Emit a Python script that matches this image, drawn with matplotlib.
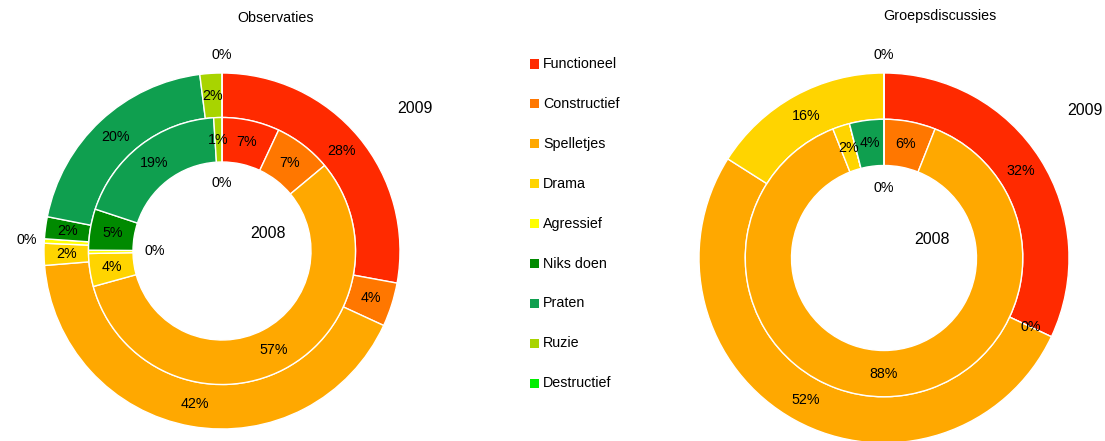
import numpy as np
import matplotlib
matplotlib.use("Agg")
import matplotlib.pyplot as plt
from matplotlib.patches import Rectangle

plt.rcParams['font.family'] = ['Liberation Sans', 'DejaVu Sans']

# data
categories = ['Functioneel', 'Constructief', 'Spelletjes', 'Drama', 'Agressief',
              'Niks doen', 'Praten', 'Ruzie', 'Destructief']
colors = ['#ff2a00', '#ff7700', '#ffa800', '#ffd400', '#ffff00',
          '#008a00', '#0f9f4f', '#a8d400', '#00ee00']

obs_2009 = [28, 4, 42, 2, 0.4, 2, 20, 2, 0]
obs_2008 = [7, 7, 57, 4, 0.4, 5, 19, 1, 0]
grp_2009 = [32, 0, 52, 16, 0, 0, 0, 0, 0]
grp_2008 = [0, 6, 88, 2, 0, 0, 4, 0, 0]

W, H = 1105, 441
FS = 10.3
fig = plt.figure(figsize=(W / 100, H / 100), dpi=100)


def make_axes(cx, cy, scale, lim=1.4):
    # cx, cy in pixels from top-left, scale = pixels per unit radius
    half = lim * scale
    ax = fig.add_axes([(cx - half) / W, (H - cy - half) / H, 2 * half / W, 2 * half / H])
    ax.set_xlim(-lim, lim)
    ax.set_ylim(-lim, lim)
    ax.axis('off')
    return ax


def ring_labels(ax, values, r_out, r_in, placed, outer):
    total = float(sum(values))
    n = len(values)
    cum = 0.0
    for i, v in enumerate(values):
        a0 = cum / total * 360
        cum += v
        a1 = cum / total * 360
        mid = np.radians((a0 + a1) / 2)
        r = (r_out + r_in) / 2
        zero = round(v) == 0
        if zero and min(values[i - 1], values[(i + 1) % n]) < 5:
            # crowded zero slice: put the label outside / inside the ring
            r = r_out + 0.1 if outer else r_in - 0.12
        x, y = r * np.sin(mid), r * np.cos(mid)
        if zero and any(np.hypot(x - px, y - py) < 0.15 for px, py in placed):
            continue
        placed.append((x, y))
        ax.text(x, y, '%d%%' % round(v), ha='center', va='center', fontsize=FS)


def donut(ax, outer, inner, title):
    wp = dict(width=0.25, edgecolor='white', linewidth=1)
    ax.pie(outer, radius=1.0, colors=colors, startangle=90, counterclock=False,
           wedgeprops=wp)
    ax.pie(inner, radius=0.75, colors=colors, startangle=90, counterclock=False,
           wedgeprops=wp)
    ax.set_xlim(-1.4, 1.4)
    ax.set_ylim(-1.4, 1.4)
    placed = []
    ring_labels(ax, outer, 1.0, 0.75, placed, True)
    ring_labels(ax, inner, 0.75, 0.5, placed, False)
    ax.text(1.085, 0.80, '2009', ha='center', va='center', fontsize=11.5)
    ax.text(0.26, 0.10, '2008', ha='center', va='center', fontsize=11.5)
    ax.text(0.3, 1.31, title, ha='center', va='center', fontsize=FS)


ax1 = make_axes(222, 251, 178)
donut(ax1, obs_2009, obs_2008, 'Observaties')

ax2 = make_axes(884, 258, 185)
donut(ax2, grp_2009, grp_2008, 'Groepsdiscussies')

# legend
for i, (name, c) in enumerate(zip(categories, colors)):
    y = 64 + i * 39.9
    fig.patches.append(Rectangle((530 / W, (H - y - 4.5) / H), 9 / W, 9 / H,
                                 transform=fig.transFigure, facecolor=c,
                                 edgecolor='none'))
    fig.text(543 / W, (H - y) / H, name, ha='left', va='center', fontsize=FS)

fig.savefig('out.png', dpi=100)
